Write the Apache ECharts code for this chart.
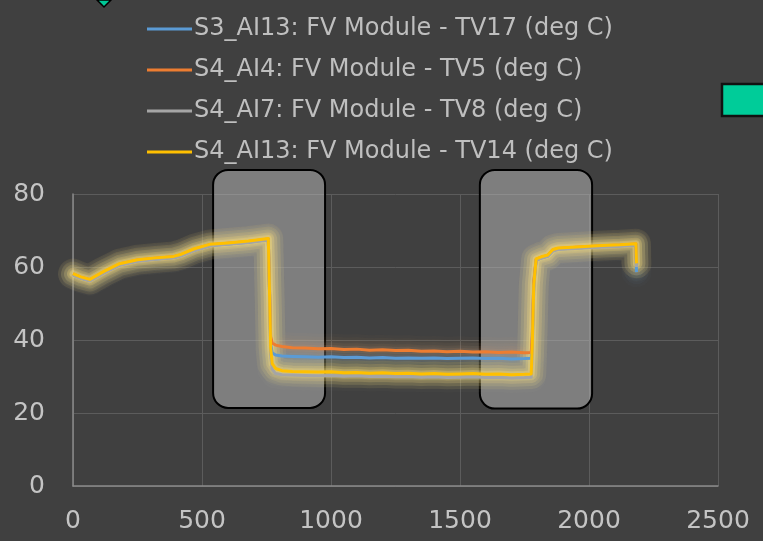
<!DOCTYPE html>
<html>
<head>
<meta charset="utf-8">
<script src="https://cdn.jsdelivr.net/npm/echarts@6/dist/echarts.min.js"></script>
<style>
html,body{margin:0;padding:0;background:#404040;}
#chart{width:763px;height:541px;}
</style>
</head>
<body>
<div id="chart"></div>
<script>
// Time axis (x) shared by all series
const xs = [0,30,65,120,180,250,320,390,420,470, 530,600,680,757,762,766,772,785,810,850, 900,950,1000,1050,1100,1150,1200,1250,1300,1350, 1400,1450,1500,1550,1600,1650,1700,1750,1776,1780, 1786,1795,1815,1840,1860,1880,1950,2050,2120,2182, 2184];

const seriesNames = [
  'S3_AI13: FV Module - TV17 (deg C)',
  'S4_AI4: FV Module - TV5 (deg C)',
  'S4_AI7: FV Module - TV8 (deg C)',
  'S4_AI13: FV Module - TV14 (deg C)'
];

const tv17 = [57.9,57.0,56.3,58.5,60.6,61.7,62.2,62.6,63.2,64.6, 65.9,66.3,66.8,67.5,52.5,39.0,36.5,35.9,35.6,35.5, 35.4,35.3,35.4,35.2,35.3,35.1,35.2,35.0,35.1,35.0, 35.1,34.9,35.0,35.1,34.9,35.0,34.8,34.9,35.0,40.0, 55.5,61.9,62.5,63.0,64.5,64.9,65.2,65.6,65.8,66.1, 58.6];
const tv5 = [58.1,57.2,56.5,58.7,60.8,61.9,62.4,62.8,63.4,64.9, 66.1,66.5,67.0,67.7,53.0,41.0,39.2,38.6,38.2,37.9, 37.8,37.6,37.7,37.4,37.5,37.2,37.3,37.1,37.2,36.9, 37.0,36.8,36.9,36.7,36.8,36.6,36.7,36.5,36.6,41.0, 56.0,62.1,62.7,63.2,64.7,65.1,65.4,65.8,66.0,66.3, 61.0];
const tv8 = [57.8,56.9,56.2,58.4,60.5,61.6,62.1,62.5,63.1,64.5, 65.8,66.2,66.7,67.4,52.0,36.0,32.0,30.8,30.5,30.4, 30.3,30.2,30.3,30.1,30.2,30.0,30.1,29.9,30.0,29.8, 29.9,29.7,29.8,29.9,29.7,29.8,29.6,29.7,29.8,37.0, 54.5,61.8,62.4,62.9,64.4,64.8,65.1,65.5,65.7,66.0, 60.0];
const tv14 = [58.2,57.3,56.6,58.8,60.9,62.0,62.5,62.9,63.5,65.0, 66.2,66.6,67.1,67.8,52.0,38.0,33.5,32.2,31.6,31.4, 31.3,31.2,31.3,31.0,31.1,30.9,31.0,30.8,30.9,30.7, 30.8,30.6,30.7,30.8,30.6,30.7,30.5,30.6,30.7,38.0, 55.0,62.2,62.8,63.3,64.8,65.2,65.5,65.9,66.1,66.4, 61.0];

// Highlight boxes: [x start, x end, y top, y bottom]
const boxes = [
  [543, 977, 86.6, 21.4],
  [1577, 2012, 86.6, 21.2]
];

const xTicks = [0, 500, 1000, 1500, 2000, 2500];
const yTicks = [0, 20, 40, 60, 80];

const colors = ['#5b9bd5', '#ed7d31', '#a5a5a5', '#ffc000'];
const glowColors = ['#6fa8dc', '#f0a060', '#e8e0a0', '#ffe27a'];
const values = [tv17, tv5, tv8, tv14];

const chart = echarts.init(document.getElementById('chart'));

function pts(v) { return xs.map((x, j) => [x, v[j]]); }

// soft glow layers beneath the lines
const glowSeries = [];
const glowLayers = [
  { width: 30, opacity: 0.035 },
  { width: 24, opacity: 0.05 },
  { width: 18, opacity: 0.065 },
  { width: 12, opacity: 0.09 },
  { width: 7, opacity: 0.13 }
];
values.forEach((v, i) => {
  glowLayers.forEach((g, k) => {
    glowSeries.push({
      name: 'glow' + i + '_' + k,
      type: 'line',
      data: pts(v),
      showSymbol: false,
      symbol: 'none',
      z: 3,
      lineStyle: {
        color: glowColors[i],
        width: g.width,
        opacity: i === 3 ? g.opacity * 2.1 : g.opacity * 0.7,
        cap: 'round',
        join: 'round'
      },
      silent: true,
      animation: false
    });
  });
});

const lineSeries = values.map((v, i) => ({
  name: seriesNames[i],
  type: 'line',
  data: pts(v),
  showSymbol: false,
  symbol: 'none',
  z: 5 + i,
  lineStyle: { color: colors[i], width: 3, join: 'round' },
  itemStyle: { color: colors[i] },
  silent: true,
  animation: false
}));

const option = {
  backgroundColor: '#404040',
  animation: false,
  textStyle: { fontFamily: 'DejaVu Sans' },
  legend: {
    orient: 'vertical',
    left: 142,
    top: 12,
    itemWidth: 45,
    itemHeight: 3,
    itemGap: 17,
    icon: 'rect',
    data: seriesNames,
    textStyle: { color: '#bfbfbf', fontSize: 24, fontFamily: 'DejaVu Sans', padding: [0, 0, 0, -3] }
  },
  grid: { left: 73, right: 45, top: 194, bottom: 55, containLabel: false },
  xAxis: {
    type: 'value',
    min: xTicks[0],
    max: xTicks[xTicks.length - 1],
    interval: 500,
    axisLine: { show: true, lineStyle: { color: '#8a8a8a', width: 1.5 } },
    axisTick: { show: false },
    axisLabel: { color: '#c4c4c4', fontSize: 25, margin: 23, fontFamily: 'DejaVu Sans', formatter: v => String(v) },
    splitLine: { show: true, lineStyle: { color: '#5c5c5c', width: 1 } }
  },
  yAxis: {
    type: 'value',
    min: yTicks[0],
    max: yTicks[yTicks.length - 1],
    interval: 20,
    axisLine: { show: true, lineStyle: { color: '#8a8a8a', width: 1.5 } },
    axisTick: { show: false },
    axisLabel: { color: '#c4c4c4', fontSize: 25, margin: 28, fontFamily: 'DejaVu Sans', formatter: v => String(v) },
    splitLine: { show: true, lineStyle: { color: '#5c5c5c', width: 1 } }
  },
  graphic: [
    { type: 'polygon', shape: { points: [[97, 0], [111, 0], [104, 7]] }, style: { fill: '#00c896', stroke: '#000', lineWidth: 1.5 }, z: 100 },
    { type: 'rect', shape: { x: 722, y: 84, width: 45, height: 32 }, style: { fill: '#00cc99', stroke: '#111', lineWidth: 2.5 }, z: 100 }
  ],
  series: [
    {
      type: 'custom',
      name: 'boxes',
      data: boxes,
      clip: false,
      silent: true,
      z: 2,
      renderItem: function (params, api) {
        const p0 = api.coord([api.value(0), api.value(2)]);
        const p1 = api.coord([api.value(1), api.value(3)]);
        return {
          type: 'rect',
          shape: { x: p0[0], y: p0[1], width: p1[0] - p0[0], height: p1[1] - p0[1], r: 15 },
          style: { fill: 'rgba(195,195,195,0.47)', stroke: '#000', lineWidth: 2 }
        };
      }
    }
  ].concat(glowSeries, lineSeries)
};

chart.setOption(option);
</script>
</body>
</html>
